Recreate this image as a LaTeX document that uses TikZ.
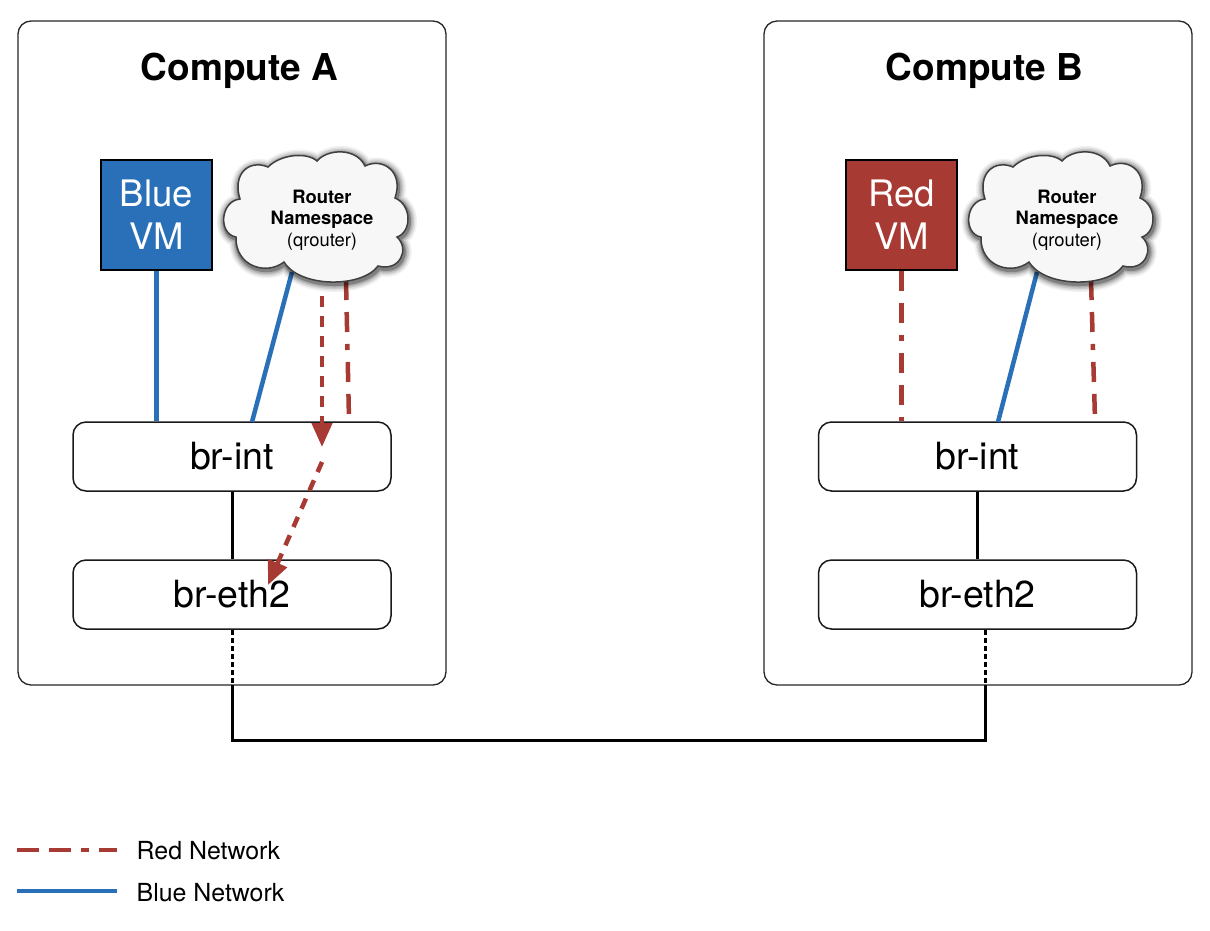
\documentclass[tikz,border=0pt]{standalone}
\usepackage{fontspec}
\setmainfont{TeX Gyre Heros}
\usetikzlibrary{arrows.meta}
\definecolor{netblue}{HTML}{2A70B8}
\definecolor{netred}{HTML}{A83A34}
\tikzset{
  host/.style={draw=black!85,line width=1.3pt,rounded corners=13pt,fill=white},
  bridge/.style={draw=black!90,line width=1.5pt,rounded corners=13pt,fill=white,minimum width=318pt,minimum height=69pt,inner sep=0pt,font=\fontsize{37.5}{37.5}\selectfont},
  title/.style={font=\bfseries\fontsize{37}{37}\selectfont,inner sep=0pt},
  vmbox/.style={draw=black,line width=1.2pt,minimum width=111pt,minimum height=110pt,inner sep=0pt,text=white,align=center,font=\fontsize{36.5}{43}\selectfont},
  routertext/.style={align=center,inner sep=0pt,font=\fontsize{18.4}{21.5}\selectfont},
  bluenet/.style={draw=netblue,line width=4.5pt},
  rednet/.style={draw=netred,line width=4.5pt,dash pattern=on 20pt off 12pt on 20pt off 12pt on 6pt off 12pt},
  redflow/.style={draw=netred,line width=4.5pt,dash pattern=on 11pt off 9pt,-{Triangle[length=24pt,width=20pt,fill=netred]}},
  wire/.style={draw=black,line width=3pt},
  thinwire/.style={draw=black,line width=3pt,dash pattern=on 5pt off 3pt},
  legendtext/.style={anchor=west,inner sep=0pt,font=\fontsize{24.9}{25}\selectfont}
}
\newcommand{\cloudoutline}{
  (-75,-23) .. controls (-83,-48) and (-66,-63) .. (-47,-55)
  .. controls (-34,-68) and (-8,-70) .. (2,-61)
  .. controls (12,-73) and (41,-75) .. (50,-56)
  .. controls (68,-65) and (89,-50) .. (80,-24)
  .. controls (97,-17) and (97,10) .. (82,15)
  .. controls (95,27) and (85,50) .. (63,44)
  .. controls (47,66) and (-15,66) .. (-31,40)
  .. controls (-49,54) and (-80,44) .. (-79,15)
  .. controls (-97,12) and (-95,-21) .. cycle
}
\newcommand{\routercloud}[3]{
  \begin{scope}[shift={(#1,#2)}]
    \foreach \w/\o in {16/0.05,13/0.07,10/0.1,7/0.14,4/0.25}
      \draw[black,line width=\w pt,opacity=\o,line join=round,shift={(1,2)}] \cloudoutline;
    \draw[black!75,line width=1.5pt,fill=black!3] \cloudoutline;
    \node[routertext] (#3) at (7,-2) {\textbf{Router}\\\textbf{Namespace}\\(qrouter)};
  \end{scope}
}
\begin{document}
\begin{tikzpicture}[x=1pt,y=-1pt]
\useasboundingbox (0,0) rectangle (1210,930);
% hosts
\draw[host] (18,21) rectangle (446,685);
\draw[host] (764,21) rectangle (1192,685);
\node[title] (titleA) at (239.5,70.5) {Compute A};
\node[title] (titleB) at (984.5,70.5) {Compute B};
% bridges
\node[bridge] (intA) at (232,456.5) {\raisebox{-1pt}{br-int}};
\node[bridge] (ethA) at (232,594.5) {\raisebox{-1pt}{br-eth2}};
\node[bridge] (intB) at (977.5,456.5) {\raisebox{-1pt}{br-int}};
\node[bridge] (ethB) at (977.5,594.5) {\raisebox{-1pt}{br-eth2}};
% VMs
\node[vmbox,fill=netblue] (blueVM) at (156.5,215) {Blue\\VM};
\node[vmbox,fill=netred] (redVM) at (901.5,215) {Red\\VM};
% router anchor points
\coordinate (rAblueS) at (292,272);
\coordinate (rAblueE) at (252,422);
\coordinate (rAredS) at (346,280);
\coordinate (rAredE) at (349,420);
\coordinate (rAflowS) at (322,296);
\coordinate (rAflowE) at (322,447);
\coordinate (flowS) at (322,462);
\coordinate (flowE) at (268,585);
\coordinate (rBblueS) at (1037,272);
\coordinate (rBblueE) at (998,422);
\coordinate (rBredS) at (1091,280);
\coordinate (rBredE) at (1095,420);
% wires
\draw[wire] (intA.south) -- (ethA.north);
\draw[wire] (intB.south) -- (ethB.north);
\coordinate (linkA) at (232,685);
\coordinate (linkB) at (985,685);
\coordinate (linkAb) at (232,740);
\coordinate (linkBb) at (985,740);
\draw[thinwire] (ethA.south) -- (linkA);
\draw[thinwire] (ethB.south -| linkB) -- (linkB);
\draw[wire,line join=miter] (linkA) -- (linkAb) -- (linkBb) -- (linkB);
% networks
\draw[bluenet] (blueVM.south) -- (blueVM.south |- intA.north);
\draw[bluenet] (rAblueS) -- (rAblueE);
\draw[rednet] (rAredS) -- (rAredE);
\draw[rednet] (redVM.south) -- (redVM.south |- intB.north);
\draw[bluenet] (rBblueS) -- (rBblueE);
\draw[rednet] (rBredS) -- (rBredE);
\draw[redflow] (rAflowS) -- (rAflowE);
\draw[redflow] (flowS) -- (flowE);
% clouds
\routercloud{315}{222}{routerA}
\routercloud{1060}{222}{routerB}
% legend
\coordinate (lr1) at (17,850);
\coordinate (lr2) at (117,850);
\coordinate (lb1) at (17,891);
\coordinate (lb2) at (117,891);
\draw[netred,line width=4.5pt,dash pattern=on 22pt off 10pt on 22pt off 10pt on 8pt off 10pt] (lr1) -- (lr2);
\draw[bluenet] (lb1) -- (lb2);
\node[legendtext] (legR) at (136.5,851) {Red Network};
\node[legendtext] (legB) at (136.5,893) {Blue Network};
\end{tikzpicture}
\end{document}
